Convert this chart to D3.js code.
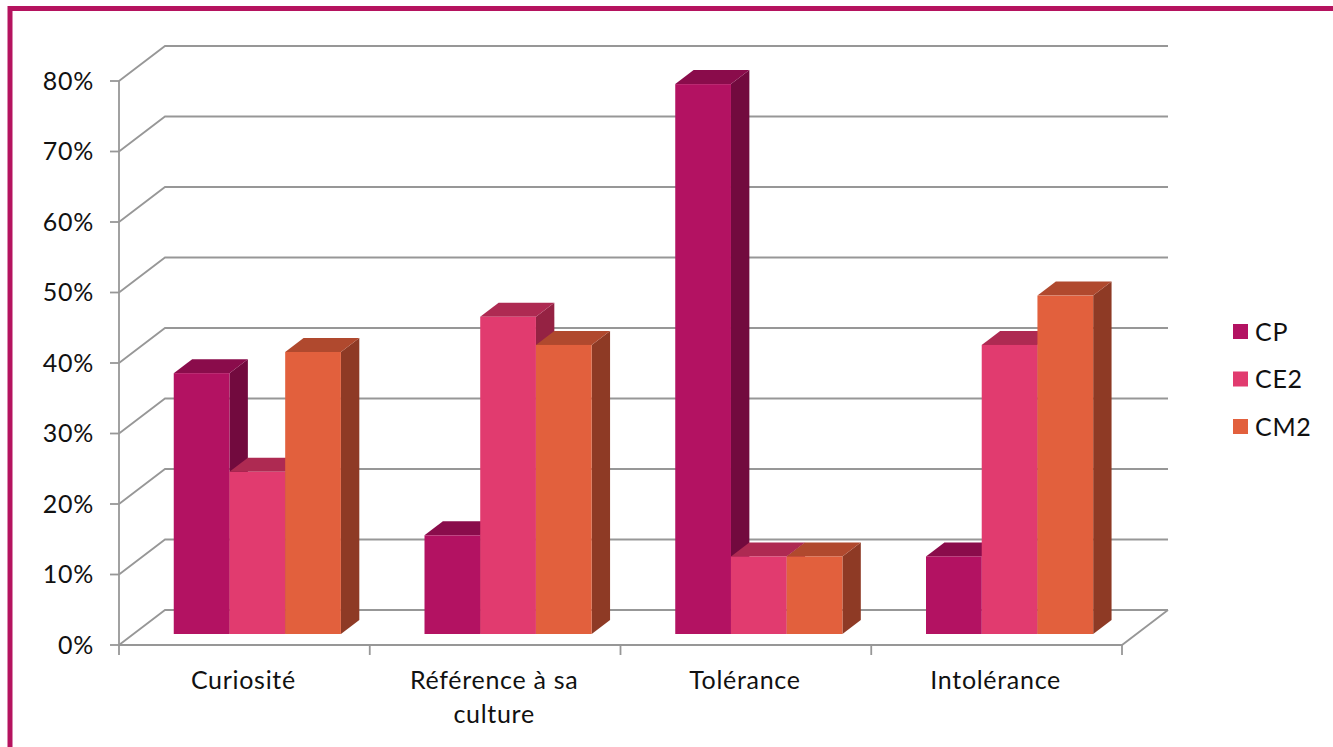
<!DOCTYPE html>
<html><head><meta charset="utf-8">
<script src="https://cdn.jsdelivr.net/npm/d3@7"></script>
<style>body{margin:0;background:#fff}svg{display:block}text{font-family:"Century Gothic","Lato",sans-serif;fill:#111;letter-spacing:0.7px}</style>
</head><body>
<svg id="c" width="1333" height="747"></svg>
<script>
const categories = ["Curiosité", "Référence à sa|culture", "Tolérance", "Intolérance"];
const seriesNames = ["CP", "CE2", "CM2"];
const CP  = [0.37, 0.14, 0.78, 0.11];
const CE2 = [0.23, 0.45, 0.11, 0.41];
const CM2 = [0.40, 0.41, 0.11, 0.48];
const yTicks = [0, 0.1, 0.2, 0.3, 0.4, 0.5, 0.6, 0.7, 0.8];
const frontColors = ["#B31262", "#E13B6F", "#E2603D"];
const topColors   = ["#8A0C4B", "#AE2A52", "#B0492E"];
const sideColors  = ["#720A3E", "#952243", "#8E3A25"];

const values = [CP, CE2, CM2];
const svg = d3.select("#c");
const FS = 25;

// frame
svg.append("rect").attr("x", 10).attr("y", 8.5).attr("width", 1400).attr("height", 800)
  .attr("fill", "none").attr("stroke", "#B5135F").attr("stroke-width", 5);

const x0 = 119, x1 = 1122, DX = 46, DY = -35;
const y = d3.scaleLinear().domain([0, 0.8]).range([645, 81]);
const x = d3.scaleBand().domain(categories).range([x0, x1]);

const grid = svg.append("g").attr("stroke", "#979797").attr("stroke-width", 1.8).attr("fill", "none");
yTicks.forEach(t => {
  const yy = y(t);
  grid.append("path").attr("d", `M${x0},${yy}L${x0 + DX},${yy + DY}L${x1 + DX},${yy + DY}`);
  grid.append("line").attr("x1", x0 - 9).attr("x2", x0).attr("y1", yy).attr("y2", yy);
});
grid.append("line").attr("x1", x0).attr("x2", x0).attr("y1", y(0.8)).attr("y2", y(0));
grid.append("path").attr("d", `M${x0},${y(0)}L${x1},${y(0)}L${x1 + DX},${y(0) + DY}`);
const bounds = categories.map(c => x(c)).concat([x1]);
bounds.forEach(b => grid.append("line").attr("x1", b).attr("x2", b).attr("y1", y(0)).attr("y2", y(0) + 10));

// y labels
svg.append("g").selectAll("text").data(yTicks).join("text")
  .attr("x", 94).attr("y", d => y(d)).attr("dy", "0.35em").attr("text-anchor", "end")
  .attr("font-size", FS).text(d => Math.round(d * 100) + "%");

// bars
const bw = x.bandwidth() / 4.5;
const f1 = 11 / 35, f2 = 25 / 35;
const ox = f1 * DX, oy = f1 * DY;
const ddx = (f2 - f1) * DX, ddy = (f2 - f1) * DY;
const bars = svg.append("g");
categories.forEach((c, ci) => {
  values.forEach((arr, si) => {
    const bx = x(c) + 0.75 * bw + si * bw + ox - 1.5;
    const yt = y(arr[ci]) + oy, yb = y(0) + oy;
    bars.append("path").attr("fill", sideColors[si])
      .attr("d", `M${bx + bw},${yt}L${bx + bw + ddx},${yt + ddy}L${bx + bw + ddx},${yb + ddy}L${bx + bw},${yb}Z`);
    bars.append("path").attr("fill", topColors[si])
      .attr("d", `M${bx},${yt}L${bx + ddx},${yt + ddy}L${bx + bw + ddx},${yt + ddy}L${bx + bw},${yt}Z`);
    bars.append("rect").attr("fill", frontColors[si])
      .attr("x", bx).attr("y", yt).attr("width", bw).attr("height", yb - yt);
  });
});

// x labels
const xl = svg.append("g");
categories.forEach(c => {
  const cx = x(c) + x.bandwidth() / 2 - 1;
  const t = xl.append("text").attr("x", cx).attr("y", 689)
    .attr("text-anchor", "middle").attr("font-size", FS);
  c.split("|").forEach((line, i) => {
    t.append("tspan").attr("x", cx).attr("dy", i === 0 ? 0 : 34).text(line);
  });
});

// legend
const lg = svg.append("g");
seriesNames.forEach((s, i) => {
  const ly = 324 + i * 47.5;
  lg.append("rect").attr("x", 1233).attr("y", ly).attr("width", 15).attr("height", 15).attr("fill", frontColors[i]);
  lg.append("text").attr("x", 1255).attr("y", ly + 7.5).attr("dy", "0.36em").attr("font-size", FS).text(s);
});
</script>
</body></html>
